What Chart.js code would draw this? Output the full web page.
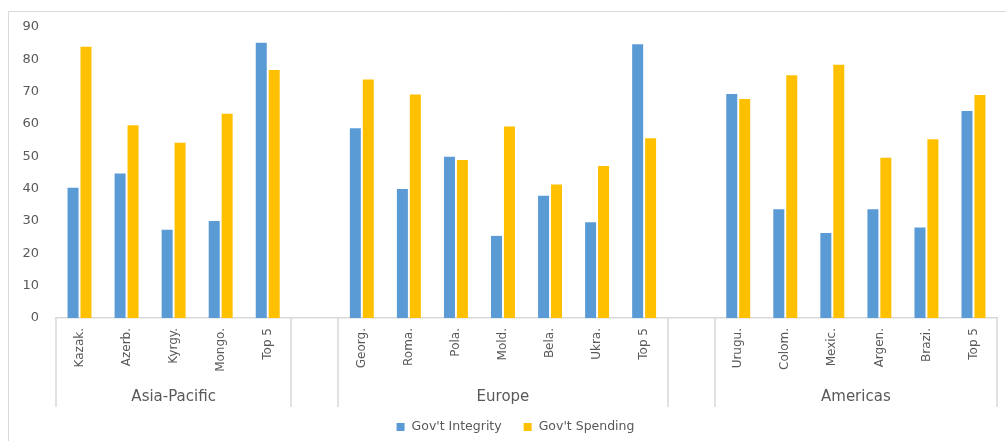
<!DOCTYPE html>
<html>
<head>
<meta charset="utf-8">
<title>Gov't Integrity vs Gov't Spending</title>
<script src="https://cdn.jsdelivr.net/npm/chart.js"></script>
<style>
  html, body { margin: 0; padding: 0; background: #fff; }
  #wrap { width: 1006px; height: 441px; position: relative; }
</style>
</head>
<body>
<div id="wrap"><canvas id="chart"></canvas></div>
<script>
// data
const groupNames = ['Asia-Pacific', 'Europe', 'Americas'];
const asiaCats = ['Kazak.', 'Azerb.', 'Kyrgy.', 'Mongo.', 'Top 5'];
const europeCats = ['Georg.', 'Roma.', 'Pola.', 'Mold.', 'Bela.', 'Ukra.', 'Top 5'];
const americasCats = ['Urugu.', 'Colom.', 'Mexic.', 'Argen.', 'Brazi.', 'Top 5'];

const asiaIntegrity = [40.3, 44.7, 27.3, 30.0, 85.1];
const asiaSpending = [83.9, 59.6, 54.2, 63.2, 76.7];
const europeIntegrity = [58.7, 39.9, 49.9, 25.4, 37.8, 29.6, 84.7];
const europeSpending = [73.8, 69.1, 48.9, 59.2, 41.3, 47.0, 55.6];
const americasIntegrity = [69.3, 33.6, 26.3, 33.6, 28.0, 64.0];
const americasSpending = [67.7, 75.1, 78.3, 49.6, 55.3, 69.0];

const yTicks = [0, 10, 20, 30, 40, 50, 60, 70, 80, 90];

// build flat category axis with one empty slot between regions
const groupCats = [asiaCats, europeCats, americasCats];
const labels = [];
const groupRanges = [];
groupCats.forEach((cats, g) => {
  if (g > 0) labels.push('');
  groupRanges.push([labels.length, labels.length + cats.length - 1]);
  labels.push(...cats);
});
const withGaps = (a, b, c) => [...a, null, ...b, null, ...c];
const integrity = withGaps(asiaIntegrity, europeIntegrity, americasIntegrity);
const spending = withGaps(asiaSpending, europeSpending, americasSpending);

const textColor = '#595959';
const lineColor = '#d9d9d9';
const fontFamily = "'DejaVu Sans', sans-serif";

// frame, group separators + labels, and the legend
const decorations = {
  id: 'decorations',
  beforeDraw(chart) {
    const ctx = chart.ctx;
    ctx.save();
    ctx.strokeStyle = lineColor;
    ctx.lineWidth = 1;
    ctx.beginPath();
    ctx.moveTo(8.5, chart.height);
    ctx.lineTo(8.5, 11.5);
    ctx.lineTo(chart.width, 11.5);
    ctx.stroke();
    ctx.restore();
  },
  afterDraw(chart) {
    const ctx = chart.ctx;
    const x = chart.scales.x;
    const area = chart.chartArea;
    const step = x.getPixelForValue(1) - x.getPixelForValue(0);
    const bottom = 407;

    // separators at group boundaries
    const edges = new Set();
    groupRanges.forEach(([a, b]) => {
      edges.add(Math.round(x.getPixelForValue(a) - step / 2));
      edges.add(Math.round(x.getPixelForValue(b) + step / 2));
    });
    ctx.save();
    ctx.strokeStyle = lineColor;
    ctx.lineWidth = 1.5;
    ctx.beginPath();
    edges.forEach(px => {
      ctx.moveTo(px, area.bottom);
      ctx.lineTo(px, bottom);
    });
    ctx.stroke();

    // group names
    ctx.fillStyle = textColor;
    ctx.font = '15px ' + fontFamily;
    ctx.textAlign = 'center';
    ctx.textBaseline = 'middle';
    groupRanges.forEach(([a, b], i) => {
      const cx = (x.getPixelForValue(a) + x.getPixelForValue(b)) / 2;
      ctx.fillText(groupNames[i], cx, 397);
    });

    // legend
    ctx.font = '12.5px ' + fontFamily;
    ctx.textAlign = 'left';
    const box = 8, gap = 7, itemGap = 22;
    const items = chart.data.datasets.map(ds => ({
      label: ds.label, color: ds.backgroundColor, w: ctx.measureText(ds.label).width
    }));
    const total = items.reduce((s, it) => s + box + gap + it.w, 0) + itemGap * (items.length - 1);
    let lx = 515.5 - total / 2;
    const ly = 427;
    items.forEach(it => {
      ctx.fillStyle = it.color;
      ctx.fillRect(lx, ly - box / 2, box, box);
      ctx.fillStyle = textColor;
      ctx.fillText(it.label, lx + box + gap, ly);
      lx += box + gap + it.w + itemGap;
    });
    ctx.restore();
  }
};

new Chart(document.getElementById('chart'), {
  type: 'bar',
  data: {
    labels: labels,
    datasets: [
      {
        label: "Gov't Integrity",
        data: integrity,
        backgroundColor: '#5B9BD5',
        categoryPercentage: 0.55,
        barPercentage: 0.85
      },
      {
        label: "Gov't Spending",
        data: spending,
        backgroundColor: '#FFC000',
        categoryPercentage: 0.55,
        barPercentage: 0.85
      }
    ]
  },
  options: {
    responsive: true,
    maintainAspectRatio: false,
    animation: false,
    layout: { padding: { left: 0, right: 9, top: 27, bottom: 0 } },
    plugins: {
      legend: { display: false },
      tooltip: { enabled: false }
    },
    scales: {
      x: {
        grid: { display: false, drawTicks: false },
        border: { display: true, color: lineColor, width: 1.5 },
        ticks: {
          color: textColor,
          font: { family: fontFamily, size: 12 },
          autoSkip: false,
          minRotation: 90,
          maxRotation: 90,
          padding: 10
        },
        afterFit(scale) { scale.height = 123; }
      },
      y: {
        min: 0,
        max: 90,
        grid: { display: false, drawTicks: false },
        border: { display: false },
        afterBuildTicks(scale) { scale.ticks = yTicks.map(v => ({ value: v })); },
        ticks: {
          color: textColor,
          font: { family: fontFamily, size: 13 },
          padding: 17
        },
        afterFit(scale) { scale.width = 56; }
      }
    }
  },
  plugins: [decorations]
});
</script>
</body>
</html>
